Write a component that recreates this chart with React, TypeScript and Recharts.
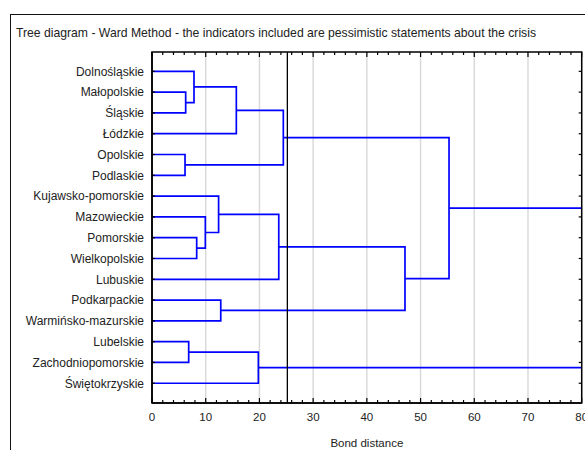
import React from "react";
import { CartesianGrid, ComposedChart, Line, ReferenceLine, XAxis, YAxis } from "recharts";

// leaves in the order they appear on the tree, top to bottom
const regions = [
  "Dolnośląskie",
  "Małopolskie",
  "Śląskie",
  "Łódzkie",
  "Opolskie",
  "Podlaskie",
  "Kujawsko-pomorskie",
  "Mazowieckie",
  "Pomorskie",
  "Wielkopolskie",
  "Lubuskie",
  "Podkarpackie",
  "Warmińsko-mazurskie",
  "Lubelskie",
  "Zachodniopomorskie",
  "Świętokrzyskie",
];

// linkage: merge k joins node mergeLeft[k] with mergeRight[k] into node 16 + k
const mergeLeft = [4, 1, 13, 0, 8, 7, 6, 11, 19, 18, 22, 24, 26, 27, 29];
const mergeRight = [5, 2, 14, 17, 9, 20, 21, 12, 3, 15, 10, 16, 23, 28, 25];
const mergeDistance = [6.15, 6.27, 6.83, 7.82, 8.32, 9.93, 12.4, 12.8, 15.7, 19.8, 23.6, 24.45, 47.1, 55.3, 96];

const distanceTicks = [0, 10, 20, 30, 40, 50, 60, 70, 80];
const minorTicks = Array.from({ length: 41 }, (_, i) => i * 2);
const leafTicks = regions.map((_, i) => i + 1);
const cutDistance = 25.2;

const title =
  "Tree diagram - Ward Method - the indicators included are pessimistic statements about the crisis";

// node positions: leaves sit at 1..16, a cluster sits halfway between its two children
const nodeY: number[] = regions.map((_, i) => i + 1);
const nodeH: number[] = regions.map(() => 0);
const links = mergeDistance.map((h, k) => {
  const a = mergeLeft[k];
  const b = mergeRight[k];
  const pts = [
    { x: nodeH[a], y: nodeY[a] },
    { x: h, y: nodeY[a] },
    { x: h, y: nodeY[b] },
    { x: nodeH[b], y: nodeY[b] },
  ];
  nodeY.push((nodeY[a] + nodeY[b]) / 2);
  nodeH.push(h);
  return pts;
});

const FONT = '"Liberation Sans", Arial, sans-serif';
const xDomain: [number, number] = [0, 80];
const yDomain: [number, number] = [0.07, 16.95];

// chart geometry (shared by the chart margins and the frame overlay)
const W = 585;
const H = 450;
const M = { top: 52, right: 3.3, bottom: 0, left: 8 };
const Y_AXIS_W = 144;
const X_AXIS_H = 47;
const plot = {
  left: M.left + Y_AXIS_W,
  right: W - M.right,
  top: M.top,
  bottom: H - M.bottom - X_AXIS_H,
};
const sx = (v: number) => plot.left + ((v - xDomain[0]) / (xDomain[1] - xDomain[0])) * (plot.right - plot.left);
const sy = (v: number) => plot.top + ((v - yDomain[0]) / (yDomain[1] - yDomain[0])) * (plot.bottom - plot.top);

const LeafTick = (props: any) => (
  <text x={props.x} y={props.y} dy="0.355em" textAnchor="end" fontSize={12} fill="#222" fontFamily={FONT}>
    {regions[props.payload.value - 1]}
  </text>
);

const DistanceTick = (props: any) => (
  <text x={props.x} y={props.y} dy="0.71em" textAnchor="middle" fontSize={11.5} fill="#222" fontFamily={FONT}>
    {props.payload.value}
  </text>
);

// plot frame with inward tick marks
function Frame() {
  return (
    <svg width={W} height={H} style={{ position: "absolute", left: 0, top: 0, pointerEvents: "none" }}>
      <rect
        x={plot.left}
        y={plot.top}
        width={plot.right - plot.left}
        height={plot.bottom - plot.top}
        fill="none"
        stroke="#000"
        strokeWidth={1.5}
      />
      {minorTicks.map((v) => {
        const len = v % 10 === 0 ? 5 : 3;
        const x = sx(v);
        return (
          <g key={`x${v}`} stroke="#000" strokeWidth={1.2}>
            <line x1={x} x2={x} y1={plot.top} y2={plot.top + len} />
            <line x1={x} x2={x} y1={plot.bottom} y2={plot.bottom - len} />
          </g>
        );
      })}
      {leafTicks.map((v) => {
        const y = sy(v);
        return (
          <g key={`y${v}`} stroke="#000" strokeWidth={1.2}>
            <line x1={plot.left} x2={plot.left + 3} y1={y} y2={y} />
            <line x1={plot.right} x2={plot.right - 3} y1={y} y2={y} />
          </g>
        );
      })}
    </svg>
  );
}

export default function App() {
  return (
    <div
      style={{
        position: "absolute",
        left: 0,
        top: 0,
        width: W,
        height: H,
        overflow: "hidden",
        background: "#fff",
        fontFamily: FONT,
      }}
    >
      <div style={{ position: "absolute", left: 10, top: 14, width: 620, height: 500, border: "1.5px solid #111" }} />
      <div
        style={{
          position: "absolute",
          left: 16,
          top: 27,
          fontSize: 12.2,
          lineHeight: "12px",
          color: "#222",
          whiteSpace: "nowrap",
        }}
      >
        {title}
      </div>
      <div style={{ position: "absolute", left: 0, top: 0 }}>
        <ComposedChart width={W} height={H} margin={M}>
          <CartesianGrid horizontal={false} stroke="#d8d8d8" strokeWidth={1.4} />
          <XAxis
            dataKey="x"
            type="number"
            domain={xDomain}
            ticks={distanceTicks}
            interval={0}
            allowDataOverflow
            height={X_AXIS_H}
            tickLine={false}
            tickSize={8}
            tickMargin={2}
            axisLine={{ stroke: "#000", strokeWidth: 1.5 }}
            tick={<DistanceTick />}
            label={{ value: "Bond distance", position: "insideBottom", offset: 3, fontSize: 11.5, fill: "#222", fontFamily: FONT }}
          />
          <YAxis
            type="number"
            domain={yDomain}
            reversed
            allowDataOverflow
            ticks={leafTicks}
            interval={0}
            width={Y_AXIS_W}
            tickLine={false}
            tickSize={6}
            tickMargin={2}
            axisLine={{ stroke: "#000", strokeWidth: 1.5 }}
            tick={<LeafTick />}
          />
          {links.map((pts, k) => (
            <Line
              key={k}
              data={pts}
              dataKey="y"
              type="linear"
              stroke="#0000ff"
              strokeWidth={1.7}
              dot={false}
              activeDot={false}
              isAnimationActive={false}
            />
          ))}
          <ReferenceLine x={cutDistance} stroke="#000" strokeWidth={1.3} />
        </ComposedChart>
      </div>
      <Frame />
    </div>
  );
}
